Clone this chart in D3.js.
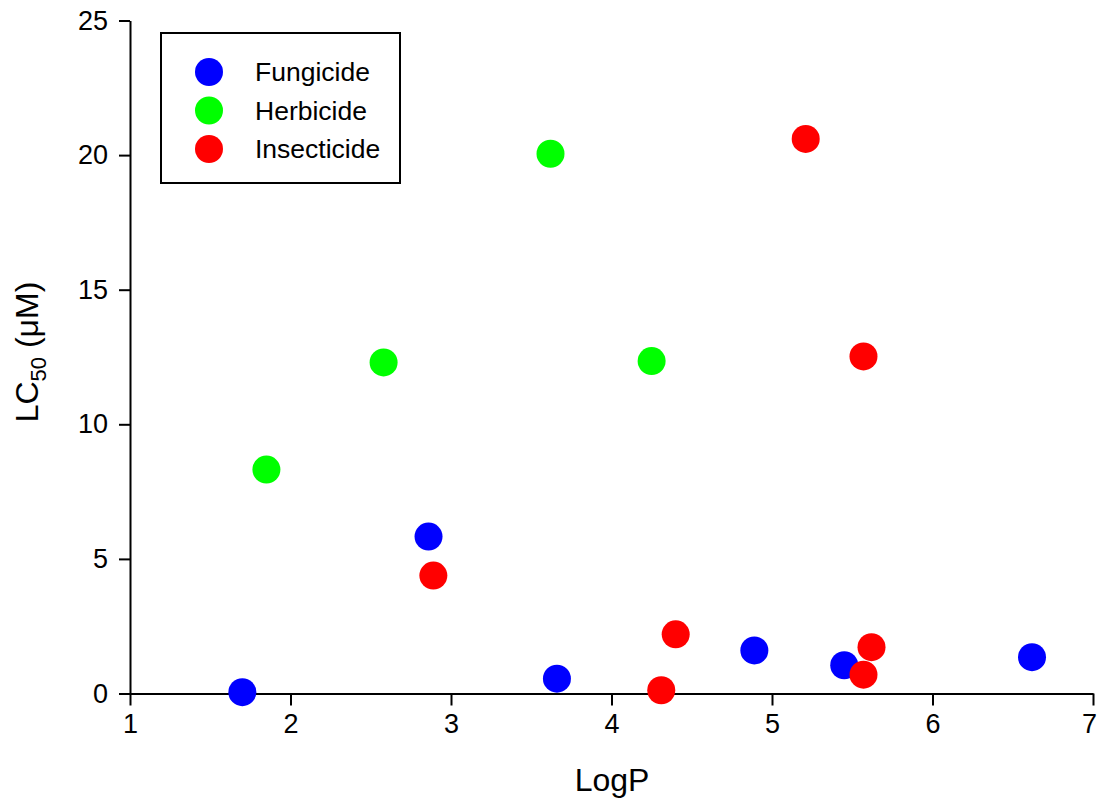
<!DOCTYPE html>
<html>
<head>
  <meta charset="UTF-8">
  <style>
    body { margin: 0; background: #fff; }
    svg { display: block; font-family: "Liberation Sans", Arial, sans-serif; }
  </style>
</head>
<body>
  <svg></svg>
<script src="https://d3js.org/d3.v7.min.js"></script>
<script>

let width = 1099,
    height = 805;

// data: [LogP, LC50]
let fungicide = [[1.70, 0.05], [2.86, 5.83], [3.66, 0.55], [4.89, 1.60], [5.45, 1.05], [6.62, 1.35]];
let herbicide = [[1.85, 8.32], [2.58, 12.3], [3.62, 20.05], [4.25, 12.35]];
let insecticide = [[2.89, 4.38], [4.40, 2.20], [4.31, 0.12], [5.21, 20.6], [5.57, 12.52], [5.62, 1.72], [5.57, 0.70]];

let groups = ["Fungicide", "Herbicide", "Insecticide"];
let colors = ["#0000ff", "#00ff00", "#ff0000"];
let xTicks = [1, 2, 3, 4, 5, 6, 7];
let yTicks = [0, 5, 10, 15, 20, 25];

let series = [fungicide, herbicide, insecticide];

let svg = d3.select("svg")
    .attr("width", width)
    .attr("height", height);

let x = d3.scaleLinear().domain([1, 7]).range([130, 1093]);
let y = d3.scaleLinear().domain([0, 25]).range([693.5, 20.5]);

// axes
let xAxis = svg.append("g")
    .attr("transform", "translate(0," + y(0) + ")")
    .call(d3.axisBottom(x).tickValues(xTicks).tickFormat(d3.format("d"))
      .tickSize(12).tickSizeOuter(0).tickPadding(8));

svg.append("g")
    .attr("transform", "translate(" + x(1) + ",0)")
    .call(d3.axisLeft(y).tickValues(yTicks).tickFormat(d3.format("d"))
      .tickSize(11).tickSizeOuter(0).tickPadding(11));

svg.selectAll(".domain, .tick line")
    .attr("stroke", "#000")
    .attr("stroke-width", 2);

svg.selectAll(".tick text")
    .attr("fill", "#000")
    .style("font-size", "27px")
    .style("font-family", "'Liberation Sans', Arial, sans-serif");

// last label sits on the page edge, pull it in a little
xAxis.selectAll(".tick text").filter(d => d === 7).attr("dx", -4);

// axis titles
svg.append("text")
    .attr("x", 612)
    .attr("y", 791)
    .attr("text-anchor", "middle")
    .style("font-size", "32px")
    .text("LogP");

let yt = svg.append("text")
    .attr("transform", "translate(38,352) rotate(-90)")
    .attr("text-anchor", "middle")
    .style("font-size", "32px");
yt.append("tspan").text("LC");
yt.append("tspan").attr("dy", 8).style("font-size", "22px").text("50");
yt.append("tspan").attr("dy", -8).text(" (\u03bcM)");

// points
series.forEach((data, i) => {
  svg.append("g")
    .selectAll("circle")
    .data(data)
    .enter()
    .append("circle")
      .attr("cx", d => x(d[0]))
      .attr("cy", d => y(d[1]))
      .attr("r", 14)
      .style("fill", colors[i]);
});

// legend
let legend = svg.append("g");
legend.append("rect")
    .attr("x", 161).attr("y", 33)
    .attr("width", 239).attr("height", 150)
    .attr("fill", "none")
    .attr("stroke", "#000")
    .attr("stroke-width", 2);

let item = legend.selectAll("g.item")
    .data(groups)
    .enter()
    .append("g")
    .attr("transform", (d, i) => "translate(0," + (72 + i * 38.5) + ")");

item.append("circle")
    .attr("cx", 209)
    .attr("r", 14)
    .style("fill", (d, i) => colors[i]);

item.append("text")
    .attr("x", 255)
    .attr("dy", "0.35em")
    .style("font-size", "26.5px")
    .text(d => d);

</script>
</body>
</html>
